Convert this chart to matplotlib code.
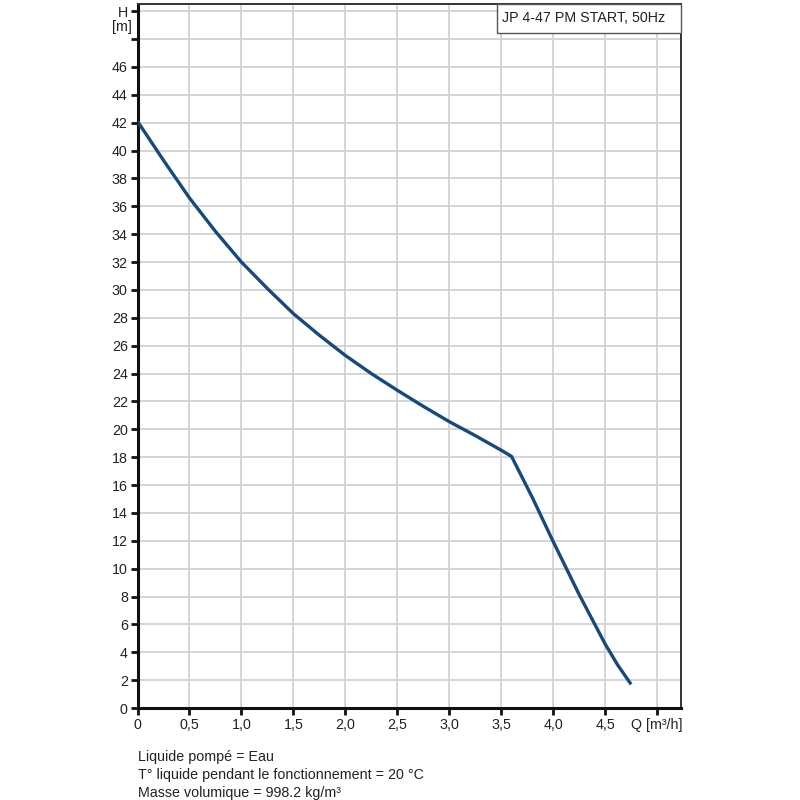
import matplotlib
matplotlib.use("Agg")
import matplotlib.pyplot as plt
from matplotlib.patches import Rectangle
import matplotlib.transforms as mtransforms

plt.rcParams['font.family'] = ['Liberation Sans', 'DejaVu Sans']

title = "JP 4-47 PM START, 50Hz"
q = [0.0, 0.25, 0.5, 0.75, 1.0, 1.25, 1.5, 1.75, 2.0, 2.25, 2.5, 2.75, 3.0, 3.25, 3.5, 3.6, 3.8, 4.0, 4.25, 4.5, 4.62, 4.75]
h = [42.1, 39.3, 36.6, 34.2, 32.0, 30.1, 28.3, 26.75, 25.3, 24.0, 22.8, 21.65, 20.55, 19.55, 18.5, 18.05, 15.1, 11.95, 8.15, 4.6, 3.1, 1.7]
xtick_vals = [0, 0.5, 1.0, 1.5, 2.0, 2.5, 3.0, 3.5, 4.0, 4.5, 5.0]
xtick_labels = ["0", "0,5", "1,0", "1,5", "2,0", "2,5", "3,0", "3,5", "4,0", "4,5", "Q [m³/h]"]
ytick_vals = list(range(0, 51, 2))
ytick_labels = [str(v) if v <= 46 else "" for v in ytick_vals]
ytick_labels[-1] = "H"
y_unit = "[m]"
notes = ["Liquide pompé = Eau",
         "T° liquide pendant le fonctionnement = 20 °C",
         "Masse volumique = 998.2 kg/m³"]

fs = 10.3
tc = "#222222"
fig = plt.figure(figsize=(8, 8), dpi=100)
ax = fig.add_axes([0.1719, 0.115, 0.6794, 0.88])
ax.plot(q, h, color="#174a7c", lw=2.4, solid_capstyle='butt', solid_joinstyle='round', zorder=3)
ax.set_xlim(0, 5.231)
ax.set_ylim(0, 50.52)
ax.set_xticks(xtick_vals)
ax.set_xticklabels(xtick_labels, fontsize=fs, color=tc)
ax.set_yticks(ytick_vals)
ax.set_yticklabels(ytick_labels, fontsize=fs, color=tc)
ax.grid(True, color="#d2d2d2", lw=1.3)
ax.set_axisbelow(True)
for s in ["left", "bottom"]:
    ax.spines[s].set_linewidth(2.2)
    ax.spines[s].set_color("#111111")
for s in ["top", "right"]:
    ax.spines[s].set_linewidth(1.4)
    ax.spines[s].set_color("#333333")
ax.tick_params(axis='both', direction='out', length=5, width=2.0, color="#111111", pad=2)

trans = mtransforms.blended_transform_factory(ax.transAxes, ax.transData)
ax.text(-0.011, 48.85, y_unit, transform=trans, ha='right', va='center', fontsize=fs, color=tc)

box_x0 = 0.661
box_y0 = 0.959
ax.add_patch(Rectangle((box_x0, box_y0), 1 - box_x0, 1 - box_y0, transform=ax.transAxes,
                       fc='white', ec='#555555', lw=1.0, zorder=5, clip_on=False))
ax.text(box_x0 + 0.009, (1 + box_y0) / 2, title, transform=ax.transAxes, ha='left', va='center',
        fontsize=fs, color=tc, zorder=6)

for i, n in enumerate(notes):
    fig.text(0.172, 0.054 - i * 0.0225, n, fontsize=fs, color=tc, ha='left', va='center')
fig.savefig("out.png", dpi=100)
